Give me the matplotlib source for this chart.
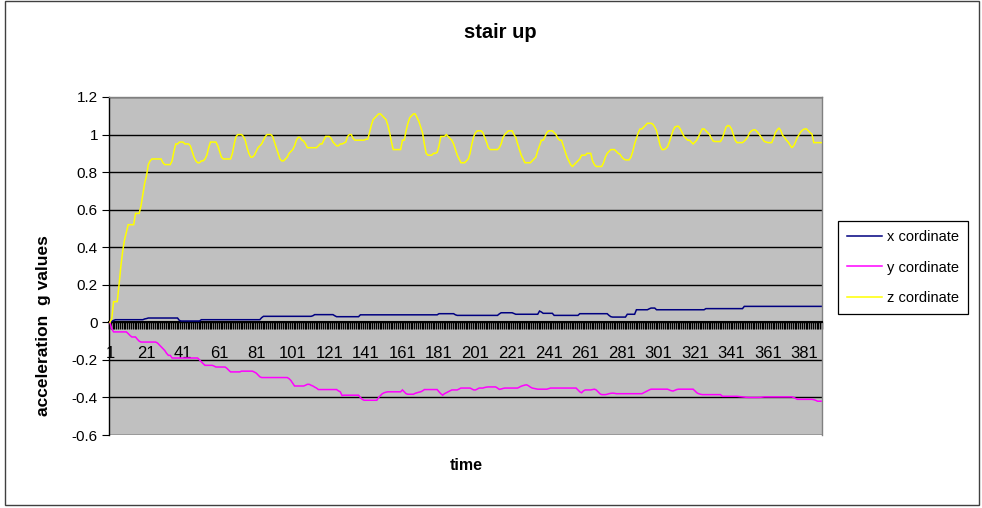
import matplotlib
matplotlib.use("Agg")
import matplotlib.pyplot as plt
from matplotlib.patches import Rectangle
import numpy as np

plt.rcParams['font.family'] = ['Liberation Sans', 'DejaVu Sans']

# accelerometer readings (g) per sample
x_coord = [
    0.0, 0.005, 0.01, 0.014, 0.014, 0.014, 0.014, 0.014, 0.014, 0.014,
    0.014, 0.014, 0.014, 0.014, 0.014, 0.014, 0.014, 0.014, 0.014, 0.018,
    0.02, 0.023, 0.023, 0.023, 0.023, 0.023, 0.023, 0.023, 0.023, 0.023,
    0.023, 0.023, 0.023, 0.023, 0.023, 0.023, 0.023, 0.023, 0.01, 0.007,
    0.007, 0.007, 0.007, 0.007, 0.007, 0.007, 0.007, 0.007, 0.007, 0.007,
    0.014, 0.014, 0.014, 0.014, 0.014, 0.014, 0.014, 0.014, 0.014, 0.014,
    0.014, 0.014, 0.014, 0.014, 0.014, 0.014, 0.014, 0.014, 0.014, 0.014,
    0.014, 0.014, 0.014, 0.014, 0.014, 0.014, 0.014, 0.014, 0.014, 0.014,
    0.014, 0.014, 0.014, 0.025, 0.032, 0.032, 0.032, 0.032, 0.032, 0.032,
    0.032, 0.032, 0.032, 0.032, 0.032, 0.032, 0.032, 0.032, 0.032, 0.032,
    0.032, 0.032, 0.032, 0.032, 0.032, 0.032, 0.032, 0.032, 0.032, 0.032,
    0.032, 0.035, 0.041, 0.041, 0.041, 0.041, 0.041, 0.041, 0.041, 0.041,
    0.041, 0.041, 0.041, 0.035, 0.03, 0.03, 0.03, 0.03, 0.03, 0.03,
    0.03, 0.03, 0.03, 0.03, 0.03, 0.03, 0.03, 0.04, 0.04, 0.04,
    0.04, 0.04, 0.04, 0.04, 0.04, 0.04, 0.04, 0.04, 0.04, 0.04,
    0.04, 0.04, 0.04, 0.04, 0.04, 0.04, 0.04, 0.04, 0.04, 0.04,
    0.04, 0.04, 0.04, 0.04, 0.04, 0.04, 0.04, 0.04, 0.04, 0.04,
    0.04, 0.04, 0.04, 0.04, 0.04, 0.04, 0.04, 0.04, 0.04, 0.04,
    0.046, 0.046, 0.046, 0.046, 0.046, 0.046, 0.046, 0.046, 0.046, 0.04,
    0.037, 0.037, 0.037, 0.037, 0.037, 0.037, 0.037, 0.037, 0.037, 0.037,
    0.037, 0.037, 0.037, 0.037, 0.037, 0.037, 0.037, 0.037, 0.037, 0.037,
    0.037, 0.037, 0.037, 0.045, 0.051, 0.051, 0.051, 0.051, 0.051, 0.051,
    0.051, 0.047, 0.043, 0.043, 0.043, 0.043, 0.043, 0.043, 0.043, 0.043,
    0.043, 0.043, 0.043, 0.043, 0.043, 0.06, 0.055, 0.048, 0.048, 0.048,
    0.048, 0.048, 0.048, 0.037, 0.037, 0.037, 0.037, 0.037, 0.037, 0.037,
    0.037, 0.037, 0.037, 0.037, 0.037, 0.037, 0.037, 0.046, 0.046, 0.046,
    0.046, 0.046, 0.046, 0.046, 0.046, 0.046, 0.046, 0.046, 0.046, 0.046,
    0.046, 0.046, 0.046, 0.037, 0.03, 0.028, 0.028, 0.028, 0.028, 0.028,
    0.028, 0.028, 0.028, 0.043, 0.043, 0.043, 0.043, 0.043, 0.067, 0.067,
    0.067, 0.067, 0.067, 0.067, 0.067, 0.072, 0.076, 0.076, 0.076, 0.067,
    0.067, 0.067, 0.067, 0.067, 0.067, 0.067, 0.067, 0.067, 0.067, 0.067,
    0.067, 0.067, 0.067, 0.067, 0.067, 0.067, 0.067, 0.067, 0.067, 0.067,
    0.067, 0.067, 0.067, 0.067, 0.067, 0.067, 0.073, 0.073, 0.073, 0.073,
    0.073, 0.073, 0.073, 0.073, 0.073, 0.073, 0.073, 0.073, 0.073, 0.073,
    0.073, 0.073, 0.073, 0.073, 0.073, 0.073, 0.073, 0.085, 0.085, 0.085,
    0.085, 0.085, 0.085, 0.085, 0.085, 0.085, 0.085, 0.085, 0.085, 0.085,
    0.085, 0.085, 0.085, 0.085, 0.085, 0.085, 0.085, 0.085, 0.085, 0.085,
    0.085, 0.085, 0.085, 0.085, 0.085, 0.085, 0.085, 0.085, 0.085, 0.085,
    0.085, 0.085, 0.085, 0.085, 0.085, 0.085, 0.085, 0.085, 0.085, 0.085,
]

y_coord = [
    0.0, -0.034, -0.051, -0.051, -0.051, -0.051, -0.051, -0.051, -0.051, -0.051,
    -0.06, -0.07, -0.078, -0.078, -0.078, -0.09, -0.10, -0.105, -0.105, -0.105,
    -0.105, -0.105, -0.105, -0.105, -0.105, -0.105, -0.11, -0.12, -0.13, -0.14,
    -0.15, -0.165, -0.176, -0.176, -0.19, -0.19, -0.19, -0.19, -0.19, -0.19,
    -0.19, -0.19, -0.19, -0.19, -0.19, -0.19, -0.19, -0.19, -0.19, -0.20,
    -0.21, -0.22, -0.229, -0.229, -0.229, -0.229, -0.229, -0.233, -0.238, -0.238,
    -0.238, -0.238, -0.238, -0.238, -0.245, -0.255, -0.264, -0.264, -0.264, -0.264,
    -0.264, -0.264, -0.26, -0.26, -0.26, -0.26, -0.26, -0.26, -0.26, -0.265,
    -0.27, -0.28, -0.29, -0.294, -0.294, -0.294, -0.294, -0.294, -0.294, -0.294,
    -0.294, -0.294, -0.294, -0.294, -0.294, -0.294, -0.294, -0.294, -0.30, -0.31,
    -0.325, -0.339, -0.339, -0.339, -0.339, -0.339, -0.339, -0.335, -0.33, -0.33,
    -0.335, -0.339, -0.345, -0.35, -0.358, -0.358, -0.358, -0.358, -0.358, -0.358,
    -0.358, -0.358, -0.358, -0.358, -0.358, -0.365, -0.37, -0.39, -0.388, -0.388,
    -0.388, -0.388, -0.388, -0.388, -0.388, -0.388, -0.388, -0.40, -0.41, -0.415,
    -0.415, -0.415, -0.415, -0.415, -0.415, -0.415, -0.415, -0.40, -0.39, -0.38,
    -0.375, -0.372, -0.37, -0.37, -0.37, -0.37, -0.37, -0.37, -0.37, -0.37,
    -0.36, -0.37, -0.38, -0.383, -0.383, -0.383, -0.383, -0.378, -0.375, -0.372,
    -0.37, -0.365, -0.358, -0.358, -0.358, -0.358, -0.358, -0.358, -0.358, -0.358,
    -0.37, -0.38, -0.388, -0.38, -0.375, -0.37, -0.365, -0.36, -0.36, -0.36,
    -0.36, -0.355, -0.35, -0.35, -0.35, -0.35, -0.35, -0.35, -0.355, -0.36,
    -0.36, -0.355, -0.35, -0.35, -0.35, -0.347, -0.345, -0.344, -0.344, -0.344,
    -0.344, -0.344, -0.35, -0.357, -0.355, -0.352, -0.35, -0.35, -0.35, -0.35,
    -0.35, -0.35, -0.35, -0.35, -0.345, -0.34, -0.337, -0.334, -0.333, -0.338,
    -0.345, -0.35, -0.352, -0.354, -0.356, -0.356, -0.356, -0.356, -0.356, -0.356,
    -0.353, -0.35, -0.35, -0.35, -0.35, -0.35, -0.35, -0.35, -0.35, -0.35,
    -0.35, -0.35, -0.35, -0.35, -0.35, -0.35, -0.36, -0.37, -0.375, -0.365,
    -0.36, -0.36, -0.36, -0.36, -0.358, -0.356, -0.36, -0.37, -0.38, -0.385,
    -0.385, -0.385, -0.383, -0.38, -0.378, -0.377, -0.378, -0.38, -0.38, -0.38,
    -0.38, -0.38, -0.38, -0.38, -0.38, -0.38, -0.38, -0.38, -0.38, -0.38,
    -0.38, -0.38, -0.375, -0.37, -0.365, -0.36, -0.356, -0.356, -0.356, -0.356,
    -0.356, -0.356, -0.356, -0.356, -0.356, -0.356, -0.36, -0.364, -0.366, -0.362,
    -0.358, -0.356, -0.356, -0.356, -0.356, -0.356, -0.356, -0.356, -0.356, -0.356,
    -0.365, -0.375, -0.38, -0.383, -0.385, -0.385, -0.385, -0.385, -0.385, -0.385,
    -0.385, -0.385, -0.385, -0.385, -0.385, -0.394, -0.394, -0.394, -0.394, -0.394,
    -0.394, -0.394, -0.394, -0.394, -0.395, -0.396, -0.397, -0.398, -0.399, -0.40,
    -0.40, -0.40, -0.40, -0.40, -0.40, -0.40, -0.399, -0.398, -0.397, -0.397,
    -0.397, -0.397, -0.397, -0.397, -0.397, -0.397, -0.397, -0.397, -0.397, -0.397,
    -0.397, -0.397, -0.397, -0.397, -0.40, -0.405, -0.41, -0.41, -0.41, -0.41,
    -0.41, -0.41, -0.41, -0.41, -0.41, -0.412, -0.415, -0.42, -0.42, -0.42,
]

z_coord = [
    0.00, 0.02, 0.11, 0.11, 0.11, 0.20, 0.30, 0.38, 0.44, 0.48,
    0.52, 0.52, 0.52, 0.52, 0.58, 0.58, 0.58, 0.62, 0.68, 0.74,
    0.78, 0.84, 0.86, 0.87, 0.87, 0.87, 0.87, 0.87, 0.87, 0.85,
    0.84, 0.84, 0.84, 0.84, 0.86, 0.91, 0.95, 0.95, 0.96, 0.96,
    0.96, 0.95, 0.95, 0.95, 0.94, 0.91, 0.88, 0.86, 0.85, 0.85,
    0.86, 0.86, 0.87, 0.89, 0.93, 0.96, 0.96, 0.96, 0.96, 0.94,
    0.91, 0.88, 0.87, 0.87, 0.87, 0.87, 0.87, 0.90, 0.95, 0.99,
    1.00, 1.00, 1.00, 0.99, 0.97, 0.93, 0.90, 0.88, 0.88, 0.89,
    0.91, 0.93, 0.94, 0.95, 0.97, 0.99, 1.00, 1.00, 1.00, 0.99,
    0.96, 0.93, 0.90, 0.87, 0.86, 0.86, 0.87, 0.88, 0.90, 0.91,
    0.92, 0.94, 0.97, 0.985, 0.985, 0.97, 0.965, 0.95, 0.93, 0.93,
    0.93, 0.93, 0.93, 0.93, 0.94, 0.95, 0.95, 0.97, 0.99, 0.99,
    0.99, 0.98, 0.96, 0.95, 0.94, 0.94, 0.95, 0.95, 0.955, 0.96,
    0.99, 1.00, 1.00, 0.98, 0.97, 0.97, 0.97, 0.97, 0.97, 0.97,
    0.975, 0.975, 1.01, 1.05, 1.08, 1.09, 1.10, 1.11, 1.11, 1.10,
    1.09, 1.08, 1.05, 1.01, 0.96, 0.92, 0.92, 0.92, 0.92, 0.92,
    0.97, 0.97, 1.02, 1.06, 1.09, 1.10, 1.11, 1.11, 1.09, 1.07,
    1.04, 1.01, 0.95, 0.90, 0.89, 0.89, 0.89, 0.90, 0.90, 0.905,
    0.94, 0.99, 0.99, 0.99, 1.00, 0.99, 0.98, 0.97, 0.95, 0.92,
    0.89, 0.87, 0.85, 0.85, 0.85, 0.86, 0.87, 0.90, 0.95, 0.99,
    1.01, 1.02, 1.02, 1.02, 1.01, 0.985, 0.96, 0.93, 0.92, 0.92,
    0.92, 0.92, 0.92, 0.93, 0.95, 0.985, 1.00, 1.01, 1.02, 1.02,
    1.02, 1.00, 0.985, 0.95, 0.92, 0.89, 0.87, 0.85, 0.85, 0.85,
    0.85, 0.86, 0.87, 0.88, 0.915, 0.94, 0.97, 0.97, 0.99, 1.01,
    1.02, 1.02, 1.02, 1.01, 1.00, 0.98, 0.97, 0.97, 0.94, 0.91,
    0.88, 0.86, 0.84, 0.83, 0.84, 0.85, 0.86, 0.87, 0.89, 0.89,
    0.89, 0.90, 0.90, 0.90, 0.86, 0.84, 0.83, 0.83, 0.83, 0.83,
    0.85, 0.88, 0.90, 0.91, 0.92, 0.92, 0.92, 0.91, 0.90, 0.895,
    0.88, 0.87, 0.865, 0.865, 0.865, 0.88, 0.91, 0.95, 0.98, 1.01,
    1.03, 1.03, 1.04, 1.05, 1.06, 1.06, 1.06, 1.055, 1.04, 1.02,
    0.98, 0.94, 0.92, 0.92, 0.925, 0.935, 0.96, 0.99, 1.02, 1.04,
    1.044, 1.044, 1.03, 1.01, 0.99, 0.98, 0.97, 0.97, 0.96, 0.95,
    0.96, 0.97, 0.99, 1.01, 1.03, 1.03, 1.02, 1.01, 1.00, 0.98,
    0.965, 0.963, 0.963, 0.963, 0.963, 0.98, 1.01, 1.04, 1.048, 1.045,
    1.03, 1.00, 0.97, 0.957, 0.957, 0.957, 0.957, 0.965, 0.975, 0.99,
    1.01, 1.02, 1.025, 1.025, 1.015, 1.003, 0.99, 0.975, 0.963, 0.96,
    0.957, 0.957, 0.957, 0.98, 1.01, 1.025, 1.035, 1.02, 0.995, 0.985,
    0.97, 0.96, 0.945, 0.93, 0.94, 0.96, 0.985, 1.00, 1.015, 1.025,
    1.03, 1.03, 1.02, 1.01, 1.003, 0.957, 0.957, 0.957, 0.957, 0.957,
]

series_names = ["x cordinate", "y cordinate", "z cordinate"]
series_colors = ["#000080", "#FF00FF", "#FFFF00"]
category_labels = ["1", "21", "41", "61", "81", "101", "121", "141", "161", "181",
                   "201", "221", "241", "261", "281", "301", "321", "341", "361", "381"]
value_ticks = [-0.6, -0.4, -0.2, 0.0, 0.2, 0.4, 0.6, 0.8, 1.0, 1.2]
value_labels = ["-0.6", "-0.4", "-0.2", "0", "0.2", "0.4", "0.6", "0.8", "1", "1.2"]

W, H = 982, 508
fig = plt.figure(figsize=(W / 100, H / 100), dpi=100)
fig.patch.set_facecolor("white")

L, R, T, B = 109, 822, 97, 435
ax = fig.add_axes([L / W, 1 - B / H, (R - L) / W, (B - T) / H])
ax.set_facecolor("#C0C0C0")

n = len(z_coord)
for vals, name, col in zip([x_coord, y_coord, z_coord], series_names, series_colors):
    ax.plot(np.arange(1, len(vals) + 1), vals, color=col, lw=1.1, label=name,
            solid_joinstyle="miter", zorder=3)

ax.set_xlim(0.5, n + 0.5)
ax.set_ylim(-0.6, 1.2)

ax.set_yticks(value_ticks, labels=value_labels)
ax.yaxis.grid(True, color="black", lw=1.0)
ax.set_axisbelow(True)
ax.tick_params(axis="y", direction="out", length=5, width=0.8, labelsize=11, pad=3)

# category axis crosses at zero, tick marks between categories
ax.spines["bottom"].set_position(("data", 0))
ax.spines["bottom"].set_color("black")
ax.spines["bottom"].set_linewidth(1.5)
ax.spines["bottom"].set_zorder(2.6)
ax.spines["left"].set_color("black")
ax.spines["left"].set_linewidth(1.0)
for s in ("top", "right"):
    ax.spines[s].set_color("#808080")
    ax.spines[s].set_linewidth(1.0)

ax.set_xticks(np.arange(0.5, n + 1, 1.0))
ax.set_xticklabels([])
ax.tick_params(axis="x", which="major", direction="out", length=5, width=1.0, color="black")
ax.set_xticks([int(c) for c in category_labels], labels=category_labels, minor=True)
ax.tick_params(axis="x", which="minor", length=0, pad=17, labelsize=12)

fig.text(500 / W, 1 - 33 / H, "stair up", ha="center", va="center",
         fontsize=14.5, fontweight="bold")
fig.text(466 / W, 1 - 465 / H, "time", ha="center", va="center",
         fontsize=11.5, fontweight="bold")
fig.text(44 / W, 1 - 326 / H, "acceleration  g values", ha="center", va="center",
         rotation=90, fontsize=12.5, fontweight="bold")

leg = fig.legend(loc="upper left", bbox_to_anchor=(838 / W, 1 - 221 / H),
                 frameon=True, fancybox=False, edgecolor="black", framealpha=1,
                 fontsize=10.5, handlelength=2.4, handletextpad=0.35,
                 labelspacing=1.15, borderpad=0.6, borderaxespad=0)
leg.get_frame().set_linewidth(0.9)
for line in leg.get_lines():
    line.set_linewidth(1.1)

fig.patches.append(Rectangle((5 / W, 3 / H), 974 / W, 504 / H, transform=fig.transFigure,
                             fill=False, edgecolor="#404040", lw=1.0))

fig.savefig("out.png", dpi=100)
